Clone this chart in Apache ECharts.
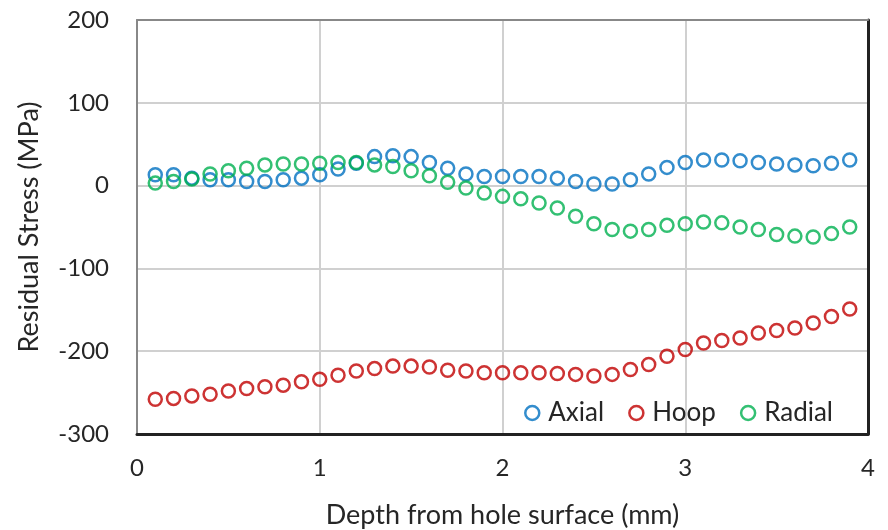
<!DOCTYPE html>
<html><head><meta charset="utf-8">
<script src="https://cdn.jsdelivr.net/npm/echarts@6/dist/echarts.min.js"></script>
<style>html,body{margin:0;padding:0;background:#fff}#c{width:888px;height:530px}</style>
</head><body><div id="c"></div>
<script>
const depth = [0.1,0.2,0.3,0.4,0.5,0.6,0.7,0.8,0.9,1.0,1.1,1.2,1.3,1.4,1.5,1.6,1.7,1.8,1.9,2.0,2.1,2.2,2.3,2.4,2.5,2.6,2.7,2.8,2.9,3.0,3.1,3.2,3.3,3.4,3.5,3.6,3.7,3.8,3.9];
const axial = [13,13,9,7,7,5,5,7,9,13,20,27,35,36,35,28,21,14,11,11,11,11,9,5,2,2,7,14,22,28,31,31,30,28,26,25,24,27,31];
const hoop = [-258,-257,-254,-252,-248,-245,-243,-241,-237,-234,-229,-224,-221,-218,-218,-219,-223,-224,-226,-226,-226,-226,-227,-228,-230,-228,-222,-216,-206,-198,-190,-187,-184,-178,-175,-172,-166,-158,-149];
const radial = [3,5,8,14,18,21,25,26,26,27,28,28,25,23,18,12,4,-3,-9,-13,-16,-21,-27,-37,-46,-53,-55,-53,-48,-46,-44,-45,-50,-53,-59,-61,-62,-58,-50];
const seriesNames = ['Axial','Hoop','Radial'];
const colors = ['#0070C0','#C00000','#00B050'];
const xTitle = 'Depth from hole surface (mm)';
const yTitle = 'Residual Stress (MPa)';

const font = 'Lato, "Open Sans", sans-serif';
const txt = '#262626';
const chart = echarts.init(document.getElementById('c'));
const mk = (name, vals, i) => ({
  name, type: 'scatter',
  data: depth.map((d, k) => [d, vals[k]]),
  symbol: 'circle', symbolSize: 13,
  itemStyle: { color: 'transparent', borderColor: colors[i], borderWidth: 2.5 },
  emphasis: { disabled: true }
});
const frameAxis = (pos, color, w) => ({
  type: 'value', position: pos, min: 0, max: 1,
  axisLine: { show: true, onZero: false, lineStyle: { color, width: w } },
  axisTick: { show: false }, axisLabel: { show: false }, splitLine: { show: false }
});
chart.setOption({
  animation: false,
  grid: { left: 137, right: 20, top: 20, bottom: 96, containLabel: false, outerBoundsMode: 'none' },
  legend: {
    right: 50, top: 395, itemGap: 24, itemWidth: 14, itemHeight: 14,
    textStyle: { fontFamily: font, fontSize: 26, color: txt, padding: [0, 0, 0, 4] },
    data: seriesNames.map((n, i) => ({ name: n, icon: 'circle', itemStyle: { color: 'transparent', borderColor: colors[i], borderWidth: 2.5 } }))
  },
  xAxis: [{
    type: 'value', min: 0, max: 4, interval: 1, position: 'bottom',
    name: xTitle, nameLocation: 'middle', nameGap: 68,
    nameTextStyle: { fontFamily: font, fontSize: 27, color: txt },
    axisLine: { show: true, onZero: false, lineStyle: { color: '#222', width: 3 } }, axisTick: { show: false },
    axisLabel: { fontFamily: font, fontSize: 24, color: txt, margin: 22 },
    splitLine: { lineStyle: { color: '#d0d0d0', width: 2 } }
  }, frameAxis('top', '#888', 2)],
  yAxis: [{
    type: 'value', min: -300, max: 200, interval: 100, position: 'left',
    name: yTitle, nameLocation: 'middle', nameGap: 94,
    nameTextStyle: { fontFamily: font, fontSize: 27, color: txt },
    axisLine: { show: true, onZero: false, lineStyle: { color: '#888', width: 2 } }, axisTick: { show: false },
    axisLabel: { fontFamily: font, fontSize: 24, color: txt, margin: 28 },
    splitLine: { lineStyle: { color: '#d0d0d0', width: 2 } }
  }, frameAxis('right', '#222', 3)],
  series: [mk('Axial', axial, 0), mk('Hoop', hoop, 1), mk('Radial', radial, 2)]
});
</script></body></html>
